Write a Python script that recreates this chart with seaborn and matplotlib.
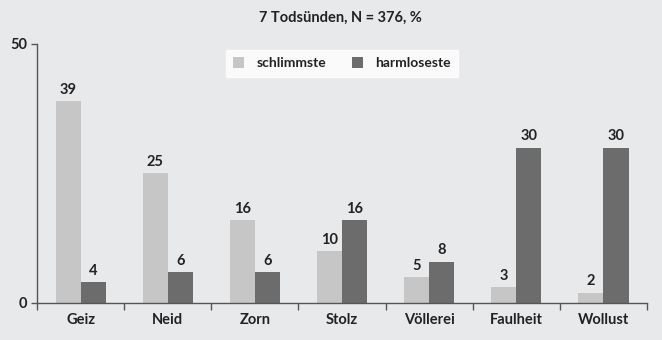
import matplotlib
matplotlib.use("Agg")
import matplotlib.pyplot as plt
import numpy as np
import pandas as pd
import seaborn as sns
from matplotlib import ticker

sins = ["Geiz", "Neid", "Zorn", "Stolz", "Völlerei", "Faulheit", "Wollust"]
schlimmste = [39, 25, 16, 10, 5, 3, 2]
harmloseste = [4, 6, 6, 16, 8, 30, 30]
series = ["schlimmste", "harmloseste"]
colors = ["#c6c6c6", "#6c6c6c"]

df = pd.DataFrame({
    "Sünde": sins * 2,
    "Prozent": schlimmste + harmloseste,
    "Typ": [series[0]] * len(sins) + [series[1]] * len(sins),
})

sns.set_style("white")
plt.rcParams["font.family"] = ["Lato", "DejaVu Sans"]
plt.rcParams["font.weight"] = "bold"

fs = 10.5
txt = "#222222"
bg = "#e8e9eb"
fig = plt.figure(figsize=(6.62, 3.4), dpi=100, facecolor=bg)
ax = fig.add_axes([0.0559, 0.109, 0.9215, 0.7616])
ax.set_facecolor(bg)

sns.barplot(data=df, x="Sünde", y="Prozent", hue="Typ", palette=colors,
            width=0.575, saturation=1, ax=ax, edgecolor="none")

for cont in ax.containers:
    ax.bar_label(cont, padding=3, fontsize=fs, fontweight="bold", color=txt)

ax.set_ylim(0, 50)
ax.set_xlim(-0.5, len(sins) - 0.5)
ax.set_yticks([0, 50])
ax.set_xlabel("")
ax.set_ylabel("")
ax.xaxis.set_minor_locator(ticker.FixedLocator(np.arange(-0.5, len(sins), 1)))
ax.tick_params(axis="x", which="major", bottom=False, pad=4, labelsize=fs)
ax.tick_params(axis="x", which="minor", bottom=True, length=5, width=1,
               color="#555555", direction="out")
ax.tick_params(axis="y", left=True, length=4, width=1, color="#555555",
               labelsize=fs, pad=3)
for lab in ax.get_xticklabels() + ax.get_yticklabels():
    lab.set_fontweight("bold")
    lab.set_color(txt)

sns.despine(ax=ax)
for s in ["left", "bottom"]:
    ax.spines[s].set_color("#555555")
    ax.spines[s].set_linewidth(1)

leg = ax.legend(loc="center", bbox_to_anchor=(0.5, 0.925), ncol=2, frameon=True,
                fancybox=False, handlelength=0.8, handleheight=0.8, columnspacing=1.8,
                handletextpad=0.9, borderpad=0.55, borderaxespad=0, fontsize=10)
leg.get_frame().set_facecolor("white")
leg.get_frame().set_edgecolor("white")
for t in leg.get_texts():
    t.set_fontweight("bold")
    t.set_color(txt)

fig.text(0.515, 0.948, "7 Todsünden, N = 376, %", ha="center", va="center",
         fontsize=fs, fontweight="bold", color=txt)

fig.savefig("out.png", dpi=100, facecolor=bg)
